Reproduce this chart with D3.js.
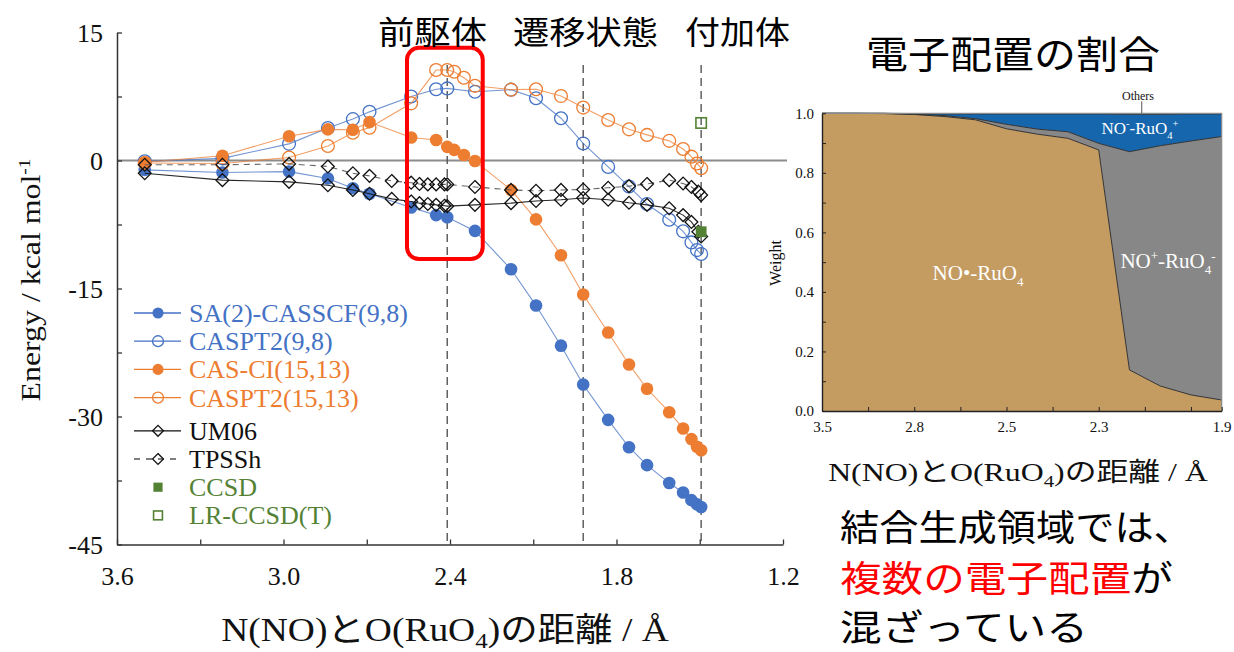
<!DOCTYPE html>
<html>
<head>
<meta charset="utf-8">
<script src="https://cdn.jsdelivr.net/npm/d3@7"></script>
<style>
  html, body { margin: 0; padding: 0; background: #fff; }
  svg { display: block; }
</style>
</head>
<body>
<svg id="fig" width="1234" height="652"></svg>
<script>
// ---------- Energy scan (left panel) ----------
// distance N(NO)–O(RuO4) in Å, relative energy in kcal/mol
const casscfX = [3.50,3.22,2.98,2.84,2.75,2.69,2.54,2.45,2.41,2.31,2.18,2.09,2.00,1.92,1.83,1.755,1.69,1.61,1.56,1.53,1.51,1.495];
const casscfY = [-1.1,-1.4,-1.3,-2.1,-3.25,-3.9,-5.5,-6.4,-6.65,-8.25,-12.75,-17.0,-21.7,-26.25,-30.4,-33.6,-35.7,-37.8,-38.9,-39.8,-40.3,-40.6];

const caspt98X = [3.50,3.22,2.98,2.84,2.75,2.69,2.54,2.45,2.41,2.31,2.18,2.09,2.00,1.92,1.83,1.755,1.69,1.61,1.56,1.53,1.51,1.495];
const caspt98Y = [-0.1,0.25,1.95,3.8,4.85,5.7,7.5,8.35,8.45,8.05,8.3,7.3,4.95,2.0,-0.75,-3.05,-5.1,-6.95,-8.3,-9.6,-10.5,-10.95];

const casciX = [3.50,3.22,2.98,2.84,2.75,2.69,2.54,2.45,2.41,2.385,2.35,2.31,2.18,2.09,2.00,1.92,1.83,1.755,1.69,1.61,1.56,1.53,1.51,1.495];
const casciY = [-0.2,0.55,2.85,3.65,3.6,4.5,2.7,2.4,1.6,1.25,0.65,-0.05,-3.45,-6.9,-11.1,-15.7,-20.15,-23.9,-26.75,-29.5,-31.4,-32.65,-33.55,-33.95];

const caspt1513X = [3.50,3.22,2.98,2.84,2.75,2.69,2.54,2.45,2.41,2.385,2.35,2.31,2.18,2.09,2.00,1.92,1.83,1.755,1.69,1.61,1.56,1.53,1.51,1.495];
const caspt1513Y = [-0.3,-0.35,0.35,1.7,3.25,3.85,6.7,10.6,10.6,10.4,9.7,8.75,8.3,8.35,7.55,6.2,4.75,3.65,3.0,2.3,1.35,0.45,-0.35,-0.9];

const dftX = [3.50,3.22,2.98,2.84,2.75,2.69,2.61,2.54,2.51,2.48,2.45,2.42,2.41,2.31,2.18,2.09,2.00,1.92,1.83,1.755,1.69,1.61,1.56,1.53,1.505,1.495];
const um06Y = [-1.5,-2.3,-2.5,-2.9,-3.45,-3.9,-4.5,-4.8,-5.0,-5.1,-5.2,-5.3,-5.35,-5.2,-5.0,-4.75,-4.6,-4.4,-4.6,-4.95,-5.2,-5.6,-6.4,-7.2,-8.35,-8.9];
const tpsshY = [-0.5,-0.5,-0.4,-0.7,-1.5,-1.8,-2.4,-2.6,-2.75,-2.8,-2.8,-2.8,-2.8,-3.1,-3.45,-3.55,-3.45,-3.4,-3.2,-3.0,-2.75,-2.3,-2.7,-3.1,-3.65,-4.05];

const ccsdX = [1.495], ccsdY = [-8.35];
const lrccsdX = [1.495], lrccsdY = [4.4];

const seriesNames = ["SA(2)-CASSCF(9,8)", "CASPT2(9,8)", "CAS-CI(15,13)", "CASPT2(15,13)", "UM06", "TPSSh", "CCSD", "LR-CCSD(T)"];

const xTicks = [3.6, 3.3, 3.0, 2.7, 2.4, 2.1, 1.8, 1.5, 1.2];
const xTickLabels = ["3.6", "", "3.0", "", "2.4", "", "1.8", "", "1.2"];
const yTicks = [15, 7.5, 0, -7.5, -15, -22.5, -30, -37.5, -45];
const yTickLabels = ["15", "", "0", "", "-15", "", "-30", "", "-45"];

// stages marked with dashed guides
const stageNames = ["前駆体", "遷移状態", "付加体"];
const stageDist = [2.41, 1.92, 1.495];

// ---------- Configuration weights (right panel) ----------
const wCats = ["3.5","3.2","3.0","2.8","2.7","2.6","2.5","2.4","2.35","2.3","2.2","2.1","2.0","1.9"];
const wRadical = [1.000,1.000,0.999,0.996,0.989,0.978,0.948,0.930,0.916,0.877,0.138,0.084,0.054,0.037];
const wCT      = [0.000,0.000,0.001,0.001,0.003,0.004,0.015,0.017,0.022,0.022,0.733,0.807,0.853,0.885];
const wReverse = [0.000,0.000,0.000,0.002,0.006,0.016,0.035,0.051,0.060,0.099,0.126,0.106,0.091,0.076];
const wOthers  = [0.000,0.000,0.000,0.001,0.002,0.002,0.002,0.002,0.002,0.002,0.003,0.003,0.002,0.002];
const wTickLabels = {0: "3.5", 3: "2.8", 6: "2.5", 9: "2.3", 13: "1.9"};
const wYTicks = [0,0.1,0.2,0.3,0.4,0.5,0.6,0.7,0.8,0.9,1.0];

// ---------- drawing ----------
const SERIF = "'Liberation Serif','Noto Sans CJK JP',serif";
const CJK = "'Noto Sans CJK JP','Noto Sans CJK SC',sans-serif";
const BLUE = "#4472C4", ORANGE = "#ED7D31", GREEN = "#548235";

const svg = d3.select("#fig");

// horizontal scale factor that brings a text group to a target width
function fitText(g, target) {
  const w = g.node().getBBox().width;
  return target / w;
}

// ===== Left panel =====
const x = d3.scaleLinear().domain([3.6, 1.2]).range([117, 783]);
const y = d3.scaleLinear().domain([-45, 15]).range([544.5, 32.5]);

const left = svg.append("g");

// zero line
left.append("line")
  .attr("x1", x(3.6)).attr("x2", x(1.2) + 4)
  .attr("y1", y(0)).attr("y2", y(0))
  .attr("stroke", "#8c8c8c").attr("stroke-width", 2);

// dashed stage guides
left.selectAll("line.stage").data(stageDist).join("line")
  .attr("class", "stage")
  .attr("x1", d => x(d)).attr("x2", d => x(d))
  .attr("y1", y(11.2)).attr("y2", y(-45))
  .attr("stroke", "#555").attr("stroke-width", 1.4)
  .attr("stroke-dasharray", "8,5");

// axes
const xAxis = d3.axisBottom(x).tickValues(xTicks)
  .tickFormat((d, i) => xTickLabels[i]).tickSize(-5).tickSizeOuter(0).tickPadding(22);
const yAxis = d3.axisLeft(y).tickValues(yTicks)
  .tickFormat((d, i) => yTickLabels[i]).tickSize(-5).tickSizeOuter(0).tickPadding(14);

const gx = left.append("g").attr("transform", `translate(0,${y(-45)})`).call(xAxis);
const gy = left.append("g").attr("transform", `translate(${x(3.6)},0)`).call(yAxis);
[gx, gy].forEach(g => {
  g.attr("font-family", null);
  g.select(".domain").attr("stroke", "#333").attr("stroke-width", 1.5);
  g.selectAll(".tick line").attr("stroke", "#333").attr("stroke-width", 1.3);
  g.selectAll(".tick text").attr("fill", "#111").style("font-family", SERIF).style("font-size", "26px");
});
gy.selectAll(".tick text").attr("dy", "0.34em");

// series
const series = [
  {xs: casscfX, ys: casscfY, color: BLUE, marker: "dot"},
  {xs: caspt98X, ys: caspt98Y, color: BLUE, marker: "ring"},
  {xs: casciX, ys: casciY, color: ORANGE, marker: "dot"},
  {xs: caspt1513X, ys: caspt1513Y, color: ORANGE, marker: "ring"},
  {xs: dftX, ys: um06Y, color: "#111", marker: "diamond"},
  {xs: dftX, ys: tpsshY, color: "#111", marker: "diamond", dash: "6,5", lineColor: "#555"},
  {xs: ccsdX, ys: ccsdY, color: GREEN, marker: "square", noLine: true},
  {xs: lrccsdX, ys: lrccsdY, color: GREEN, marker: "sqopen", noLine: true}
];

function drawMarker(g, type, color, cx, cy, scale) {
  const s = scale || 1;
  if (type === "dot") {
    g.append("circle").attr("cx", cx).attr("cy", cy).attr("r", 6.3 * s).attr("fill", color);
  } else if (type === "ring") {
    g.append("circle").attr("cx", cx).attr("cy", cy).attr("r", 6.4 * s)
      .attr("fill", "none").attr("stroke", color).attr("stroke-width", 1.3);
  } else if (type === "diamond") {
    const h = 6.4 * s;
    g.append("path").attr("d", `M${cx},${cy - h}L${cx + h},${cy}L${cx},${cy + h}L${cx - h},${cy}Z`)
      .attr("fill", "none").attr("stroke", color).attr("stroke-width", 1.3);
  } else if (type === "square") {
    const h = 5.4 * s;
    g.append("rect").attr("x", cx - h).attr("y", cy - h).attr("width", 2 * h).attr("height", 2 * h).attr("fill", color);
  } else if (type === "sqopen") {
    const h = 5.2 * s;
    g.append("rect").attr("x", cx - h).attr("y", cy - h).attr("width", 2 * h).attr("height", 2 * h)
      .attr("fill", "none").attr("stroke", color).attr("stroke-width", 1.6);
  }
}

const line = d3.line().x(d => x(d[0])).y(d => y(d[1]));
series.forEach(s => {
  const pts = s.xs.map((d, i) => [d, s.ys[i]]);
  const g = left.append("g");
  if (!s.noLine) {
    g.append("path").attr("d", line(pts)).attr("fill", "none")
      .attr("stroke", s.lineColor || s.color).attr("stroke-width", 1.1)
      .attr("stroke-opacity", s.color === "#111" ? 0.9 : 0.75)
      .attr("stroke-dasharray", s.dash || null);
  }
  pts.forEach(p => drawMarker(g, s.marker, s.color, x(p[0]), y(p[1])));
});

// highlight box around the precursor region
left.append("rect")
  .attr("x", x(2.555)).attr("y", y(13.2))
  .attr("width", x(2.282) - x(2.555)).attr("height", y(-11.55) - y(13.2))
  .attr("rx", 12).attr("ry", 12)
  .attr("fill", "none").attr("stroke", "#FF0000").attr("stroke-width", 4);

// legend
const legend = left.append("g");
seriesNames.forEach((name, i) => {
  const s = series[i];
  const ly = 313 + i * 28.2 + (i >= 4 ? 5 : 0);
  if (!s.noLine) {
    legend.append("line").attr("x1", 134).attr("x2", 181).attr("y1", ly).attr("y2", ly)
      .attr("stroke", s.lineColor || s.color).attr("stroke-width", 1.3)
      .attr("stroke-dasharray", s.dash ? "6,6" : null);
  }
  drawMarker(legend, s.marker, s.color, 158, ly, s.marker === "dot" ? 0.88 : 0.85);
  legend.append("text").attr("x", 189).attr("y", ly + 9)
    .attr("fill", s.color === "#111" ? "#111" : s.color)
    .style("font-family", SERIF).style("font-size", "26px").text(name);
});

// axis titles
const ylab = left.append("g");
const ylt = ylab.append("text").attr("text-anchor", "middle")
  .style("font-family", SERIF).style("font-size", "28px").attr("fill", "#111");
ylt.append("tspan").text("Energy / kcal mol");
ylt.append("tspan").attr("dy", -10).style("font-size", "17px").text("-1");
const kY = fitText(ylab, 243);
ylab.attr("transform", `translate(40,280) rotate(-90) scale(${kY},1)`);

const xlab = left.append("g");
const xlt = xlab.append("text").attr("text-anchor", "middle")
  .style("font-family", SERIF).style("font-size", "33px").attr("fill", "#111");
xlt.append("tspan").text("N(NO)とO(RuO");
xlt.append("tspan").attr("dy", 7).style("font-size", "22px").text("4");
xlt.append("tspan").attr("dy", -7).text(")の距離 / Å");
const kX = fitText(xlab, 448);
xlab.attr("transform", `translate(445,641) scale(${kX},1)`);

// stage titles
const stageCenters = [432.5, 585.5, 737.5];
const stageWidths = [109, 145, 105];
stageNames.forEach((t, i) => {
  const g = svg.append("g");
  g.append("text").attr("text-anchor", "middle").attr("dominant-baseline", "central")
    .style("font-family", CJK).style("font-size", "32px").attr("fill", "#000").text(t);
  const k = fitText(g, stageWidths[i]);
  g.attr("transform", `translate(${stageCenters[i]},30) scale(${k},1)`);
});

// ===== Right panel =====
const rx = d3.scaleLinear().domain([0, wCats.length - 1]).range([822, 1221.7]);
const ry = d3.scaleLinear().domain([0, 1]).range([411, 113.3]);

const right = svg.append("g");
const rows = wCats.map((c, i) => ({i, radical: wRadical[i], ct: wCT[i], rev: wReverse[i], other: wOthers[i]}));
const keys = ["radical", "ct", "rev", "other"];
const fills = {radical: "#C49B61", ct: "#878787", rev: "#1666AE", other: "#2a2a2a"};
const stacked = d3.stack().keys(keys)(rows);
const area = d3.area().x(d => rx(d.data.i)).y0(d => ry(d[0])).y1(d => ry(d[1]));
const topLine = d3.line().x(d => rx(d.data.i)).y(d => ry(d[1]));

right.selectAll("path.layer").data(stacked).join("path")
  .attr("class", "layer").attr("d", area).attr("fill", d => fills[d.key]);
right.selectAll("path.edge").data(stacked.slice(0, 3)).join("path")
  .attr("class", "edge").attr("d", topLine).attr("fill", "none")
  .attr("stroke", "#333").attr("stroke-width", 1);

// frame
right.append("line").attr("x1", rx(0)).attr("x2", rx(13)).attr("y1", ry(1)).attr("y2", ry(1))
  .attr("stroke", "#8a8a8a").attr("stroke-width", 1.2);
right.append("line").attr("x1", rx(13)).attr("x2", rx(13)).attr("y1", ry(1)).attr("y2", ry(0))
  .attr("stroke", "#8a8a8a").attr("stroke-width", 1.2);

const rxAxis = d3.axisBottom(rx).tickValues([0, 1.5, 3, 4.5, 6, 7.5, 9, 10.5, 12, 13])
  .tickFormat(d => wTickLabels[d] || "").tickSize(-4).tickSizeOuter(0).tickPadding(10);
const ryAxis = d3.axisLeft(ry).tickValues(wYTicks)
  .tickFormat((d, i) => i % 2 === 0 ? d.toFixed(1) : "").tickSize(-4).tickSizeOuter(0).tickPadding(8);
const grx = right.append("g").attr("transform", `translate(0,${ry(0)})`).call(rxAxis);
const gry = right.append("g").attr("transform", `translate(${rx(0)},0)`).call(ryAxis);
[grx, gry].forEach(g => {
  g.attr("font-family", null);
  g.select(".domain").attr("stroke", "#222").attr("stroke-width", 1.4);
  g.selectAll(".tick line").attr("stroke", "#222");
  g.selectAll(".tick text").attr("fill", "#111").style("font-family", SERIF).style("font-size", "15px");
});

// layer labels
function chemLabel(parent, cx, cy, size, parts) {
  const t = parent.append("text").attr("x", cx).attr("y", cy).attr("text-anchor", "middle")
    .style("font-family", SERIF).style("font-size", size + "px").attr("fill", "#fff");
  let shift = 0;
  parts.forEach(([str, kind]) => {
    const target = kind === "sub" ? size * 0.3 : kind === "sup" ? -size * 0.4 : 0;
    const sp = t.append("tspan").attr("dy", target - shift).text(str);
    if (kind) sp.style("font-size", (size * 0.62) + "px");
    shift = target;
  });
  return t;
}
chemLabel(right, 978, 280, 21, [["NO•-RuO", null], ["4", "sub"]]);
chemLabel(right, 1168, 268, 21, [["NO", null], ["+", "sup"], ["-RuO", null], ["4", "sub"], ["-", "sup"]]);
chemLabel(right, 1140, 134, 17, [["NO", null], ["-", "sup"], ["-RuO", null], ["4", "sub"], ["+", "sup"]]);

right.append("text").attr("x", 1138).attr("y", 100).attr("text-anchor", "middle")
  .style("font-family", SERIF).style("font-size", "12px").attr("fill", "#111").text("Others");
right.append("line").attr("x1", rx(10.4)).attr("x2", rx(10.4)).attr("y1", ry(1.04)).attr("y2", ry(1))
  .attr("stroke", "#555").attr("stroke-width", 1);

// y title
right.append("text").attr("transform", `translate(781,263) rotate(-90)`).attr("text-anchor", "middle")
  .style("font-family", SERIF).style("font-size", "16px").attr("fill", "#111").text("Weight");

// x title
const rxl = right.append("g");
const rxt = rxl.append("text").attr("text-anchor", "middle")
  .style("font-family", SERIF).style("font-size", "26px").attr("fill", "#111");
rxt.append("tspan").text("N(NO)とO(RuO");
rxt.append("tspan").attr("dy", 6).style("font-size", "17px").text("4");
rxt.append("tspan").attr("dy", -6).text(")の距離 / Å");
const kR = fitText(rxl, 380);
rxl.attr("transform", `translate(1018,481) scale(${kR},1)`);

// panel title
const rt = svg.append("g");
rt.append("text").attr("text-anchor", "middle").attr("dominant-baseline", "central")
  .style("font-family", CJK).style("font-size", "38px").attr("fill", "#000").text("電子配置の割合");
rt.attr("transform", `translate(1013,52) scale(${fitText(rt, 294)},1)`);

// remark
const note = svg.append("g").style("font-family", CJK).style("font-size", "36px");
const l1 = note.append("g");
l1.append("text").attr("dominant-baseline", "central").attr("fill", "#000").text("結合生成領域では、");
l1.attr("transform", `translate(840,525) scale(${fitText(l1, 353)},1)`);
const l2 = note.append("g");
const l2t = l2.append("text").attr("dominant-baseline", "central");
l2t.append("tspan").attr("fill", "#FF0000").text("複数の電子配置");
l2t.append("tspan").attr("fill", "#000").text("が");
l2.attr("transform", `translate(840,576) scale(${fitText(l2, 333)},1)`);
const l3 = note.append("g");
l3.append("text").attr("dominant-baseline", "central").attr("fill", "#000").text("混ざっている");
l3.attr("transform", `translate(840,625) scale(${fitText(l3, 248)},1)`);
</script>
</body>
</html>
